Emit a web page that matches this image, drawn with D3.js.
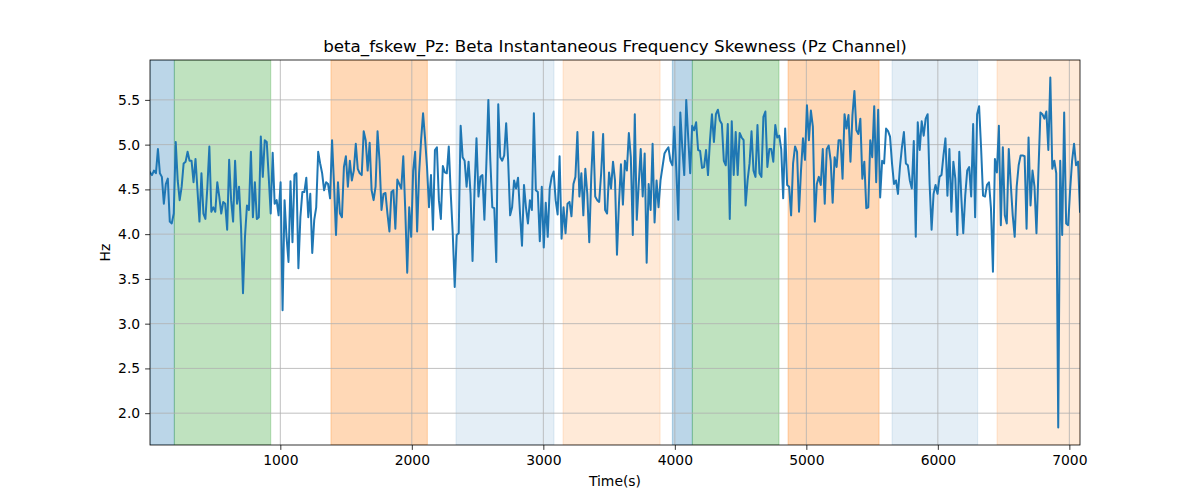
<!DOCTYPE html>
<html>
<head>
<meta charset="utf-8">
<script src="https://cdn.jsdelivr.net/npm/d3@7"></script>
<style>
  html, body { margin: 0; padding: 0; background: #fff; }
  svg { display: block; font-family: "DejaVu Sans", sans-serif; }
</style>
</head>
<body>
<svg id="chart" width="1200" height="500"></svg>
<script>
// ---- data ----
const title = "beta_fskew_Pz: Beta Instantaneous Frequency Skewness (Pz Channel)";
const xLabel = "Time(s)";
const yLabel = "Hz";
const timeStart = 9;
const timeEnd = 7081;
const values = [
  4.69,4.66,4.71,4.68,4.95,4.68,4.64,4.34,4.56,4.62,4.14,4.12,4.23,5.03,4.60,4.38,4.53,4.79,4.81,4.92,4.82,4.82,4.58,4.84,4.49,4.14,4.68,4.23,4.17,4.53,4.98,4.25,4.30,4.25,4.58,4.42,4.23,4.36,4.34,4.05,4.83,4.38,4.14,4.82,4.34,4.53,4.08,3.34,
  3.97,4.32,4.27,4.92,4.19,4.58,4.17,4.19,5.09,4.64,5.05,5.03,4.64,4.23,4.91,4.34,4.38,4.21,4.58,3.15,4.38,3.97,3.69,4.59,3.91,4.66,4.68,3.62,4.19,4.47,4.47,4.63,4.19,4.45,3.79,4.16,4.30,4.92,4.79,4.68,4.49,4.58,4.56,4.40,5.05,4.56,3.99,4.58,
  4.23,4.19,4.75,4.87,4.53,4.82,4.60,4.71,5.01,4.73,4.68,4.66,5.15,5.05,4.71,5.02,4.49,4.38,4.53,5.15,4.82,4.27,4.45,4.46,4.23,4.03,4.47,4.49,4.06,4.61,4.56,4.51,4.87,4.27,3.57,4.30,3.97,4.71,4.92,4.03,4.68,5.05,5.35,5.07,4.75,4.30,4.66,4.05,
  4.94,4.97,4.38,4.17,4.76,4.69,4.68,4.98,4.45,4.01,3.41,3.99,4.01,5.21,4.86,4.82,4.53,4.81,4.45,3.70,4.49,5.07,4.42,4.64,4.66,4.16,4.79,5.50,4.82,4.30,4.29,3.69,5.45,4.86,4.82,4.88,5.24,4.82,4.21,4.30,4.60,4.51,4.63,4.23,3.87,4.55,4.30,4.12,
  4.38,4.27,5.35,4.49,4.47,3.92,4.53,3.85,4.35,3.97,4.51,4.64,4.70,4.38,4.22,4.87,3.95,4.30,4.01,4.34,4.36,4.20,4.56,4.64,5.14,4.42,4.68,4.21,4.73,4.45,3.91,4.64,5.14,4.42,4.38,4.36,4.68,5.12,4.27,4.23,4.69,4.51,4.81,4.60,3.77,4.34,4.78,4.33,
  4.82,4.71,5.13,4.86,3.99,5.34,4.16,4.56,4.95,4.42,4.90,3.68,4.56,4.27,5.01,4.13,4.60,4.30,4.60,4.75,4.90,4.94,4.97,4.82,4.77,5.20,4.71,4.16,5.36,4.97,4.66,5.50,5.08,4.68,5.21,5.16,5.25,4.94,4.93,4.74,4.75,4.94,4.66,5.05,5.34,5.03,5.34,5.39,
  5.27,5.23,4.82,4.77,5.23,4.17,5.26,4.66,5.14,4.66,5.13,5.08,5.05,4.32,4.60,4.79,5.15,4.71,4.64,5.22,4.68,4.64,5.31,5.37,4.75,4.95,4.95,4.81,5.22,5.08,5.10,4.95,4.40,5.18,4.55,4.53,4.21,4.79,4.98,4.92,4.25,4.71,5.07,4.83,5.44,5.05,5.38,5.20,
  4.14,4.56,4.64,4.55,4.95,4.34,4.95,4.99,4.82,4.35,4.86,4.75,5.05,5.05,4.62,5.34,5.18,5.33,4.81,5.33,5.60,5.16,5.12,5.29,4.62,4.81,4.29,4.30,5.05,4.86,5.43,4.58,5.39,4.41,4.82,4.79,5.18,5.15,5.09,4.79,4.56,4.60,4.45,4.75,4.97,5.14,4.79,4.77,
  4.60,4.51,5.04,3.97,5.25,4.94,5.26,5.10,5.29,5.34,4.56,4.05,4.45,4.55,4.45,4.64,4.66,4.88,5.07,4.43,4.95,4.25,4.81,4.62,3.99,4.92,4.42,4.01,4.43,4.71,4.75,4.42,5.23,4.19,5.34,5.43,4.97,4.43,4.42,4.55,4.58,4.29,3.58,4.84,4.69,5.21,4.10,4.97,4.21,
  4.12,4.95,4.56,4.21,3.97,4.53,4.77,4.88,4.88,4.87,4.06,5.08,4.32,4.71,4.53,4.01,4.71,5.36,5.34,5.29,5.37,4.94,5.75,4.73,4.82,4.68,1.84,4.82,3.99,5.36,4.12,4.10,4.49,4.82,5.01,4.77,4.81,4.25
];
const spanStarts = [9, 194, 1385, 2336, 3150, 3981, 4133, 4861, 5652, 6450];
const spanEnds   = [194, 927, 2118, 3081, 3888, 4133, 4792, 5553, 6303, 7081];
const spanKinds  = ["blue", "green", "orange", "lightblue", "lightorange", "blue", "green", "orange", "lightblue", "lightorange"];
const xTicks = [1000, 2000, 3000, 4000, 5000, 6000, 7000];
const yTicks = [2.0, 2.5, 3.0, 3.5, 4.0, 4.5, 5.0, 5.5];

// ---- styles ----
const spanStyle = {
  blue:        { color: "#1f77b4", alpha: 0.3 },
  green:       { color: "#2ca02c", alpha: 0.3 },
  orange:      { color: "#ff7f0e", alpha: 0.3 },
  lightblue:   { color: "#1f77b4", alpha: 0.12 },
  lightorange: { color: "#ff7f0e", alpha: 0.16 }
};

const W = 1200, H = 500;
const m = { left: 150, right: 120, top: 60, bottom: 55 };
const iw = W - m.left - m.right, ih = H - m.top - m.bottom;

const n = values.length;
const dt = (timeEnd - timeStart) / (n - 1);
const data = values.map((v, i) => ({ t: timeStart + i * dt, v }));

const svg = d3.select("#chart");
const g = svg.append("g").attr("transform", `translate(${m.left},${m.top})`);

const x = d3.scaleLinear().domain([timeStart, timeEnd]).range([0, iw]);
const [vmin, vmax] = d3.extent(values);
const pad = (vmax - vmin) * 0.05;
const y = d3.scaleLinear().domain([vmin - pad, vmax + pad]).range([ih, 0]);

g.append("defs").append("clipPath").attr("id", "clip")
  .append("rect").attr("width", iw).attr("height", ih);

// spans
const spans = spanStarts.map((s, i) => ({ s, e: spanEnds[i], k: spanKinds[i] }));
g.append("g").attr("clip-path", "url(#clip)").selectAll("rect").data(spans).join("rect")
  .attr("x", d => x(d.s)).attr("width", d => x(d.e) - x(d.s))
  .attr("y", 0).attr("height", ih)
  .attr("fill", d => spanStyle[d.k].color).attr("fill-opacity", d => spanStyle[d.k].alpha)
  .attr("stroke", d => spanStyle[d.k].color).attr("stroke-opacity", d => spanStyle[d.k].alpha)
  .attr("stroke-width", 1);

// grid
const grid = g.append("g");
grid.selectAll("line.gx").data(xTicks).join("line").attr("class", "gx")
  .attr("x1", d => x(d)).attr("x2", d => x(d)).attr("y1", 0).attr("y2", ih)
  .attr("stroke", "#b0b0b0").attr("stroke-width", 0.8);
grid.selectAll("line.gy").data(yTicks).join("line").attr("class", "gy")
  .attr("y1", d => y(d)).attr("y2", d => y(d)).attr("x1", 0).attr("x2", iw)
  .attr("stroke", "#b0b0b0").attr("stroke-width", 0.8);

// line
const line = d3.line().x(d => x(d.t)).y(d => y(d.v));
g.append("path").datum(data).attr("clip-path", "url(#clip)")
  .attr("d", line).attr("fill", "none").attr("stroke", "#1f77b4")
  .attr("stroke-width", 2).attr("stroke-linejoin", "round").attr("stroke-linecap", "square");

// axes
const xAxis = d3.axisBottom(x).tickValues(xTicks).tickFormat(d3.format("d")).tickSize(4.9).tickPadding(4.9);
const yAxis = d3.axisLeft(y).tickValues(yTicks).tickFormat(d3.format(".1f")).tickSize(4.9).tickPadding(4.9);
const gx = g.append("g").attr("transform", `translate(0,${ih})`).call(xAxis);
const gy = g.append("g").call(yAxis);
[gx, gy].forEach(a => {
  a.select(".domain").remove();
  a.selectAll("line").attr("stroke", "#000").attr("stroke-width", 0.8);
  a.selectAll("text").attr("font-size", "13.9px").attr("fill", "#000").attr("font-family", "DejaVu Sans");
});

// frame
g.append("rect").attr("width", iw).attr("height", ih).attr("fill", "none")
  .attr("stroke", "#000").attr("stroke-width", 0.8);

// labels
svg.append("text").attr("x", m.left + iw / 2).attr("y", 52).attr("text-anchor", "middle")
  .attr("font-size", "16.7px").text(title);
svg.append("text").attr("x", m.left + iw / 2).attr("y", 486).attr("text-anchor", "middle")
  .attr("font-size", "13.9px").text(xLabel);
svg.append("text").attr("transform", `translate(110,${m.top + ih / 2}) rotate(-90)`)
  .attr("text-anchor", "middle").attr("font-size", "13.9px").text(yLabel);
</script>
</body>
</html>
